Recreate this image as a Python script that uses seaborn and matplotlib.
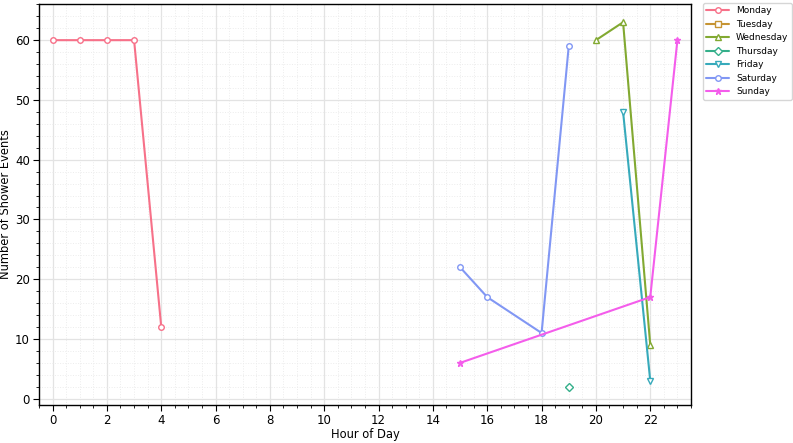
import matplotlib
matplotlib.use("Agg")
import matplotlib.pyplot as plt
import seaborn as sns
import pandas as pd
from matplotlib.ticker import AutoMinorLocator

days = ["Monday", "Tuesday", "Wednesday", "Thursday", "Friday", "Saturday", "Sunday"]
markers = ["o", "s", "^", "D", "v", "o", "*"]

monday_hours = [0, 1, 2, 3, 4]
monday_counts = [60, 60, 60, 60, 12]
tuesday_hours = []
tuesday_counts = []
wednesday_hours = [20, 21, 22]
wednesday_counts = [60, 63, 9]
thursday_hours = [19]
thursday_counts = [2]
friday_hours = [21, 22]
friday_counts = [48, 3]
saturday_hours = [15, 16, 18, 19]
saturday_counts = [22, 17, 11, 59]
sunday_hours = [15, 22, 23]
sunday_counts = [6, 17, 60]

series = {
    "Monday": (monday_hours, monday_counts),
    "Tuesday": (tuesday_hours, tuesday_counts),
    "Wednesday": (wednesday_hours, wednesday_counts),
    "Thursday": (thursday_hours, thursday_counts),
    "Friday": (friday_hours, friday_counts),
    "Saturday": (saturday_hours, saturday_counts),
    "Sunday": (sunday_hours, sunday_counts),
}

sns.set_style("ticks")
plt.rcParams['font.family'] = ['DejaVu Sans']
plt.rcParams['text.color'] = 'black'
plt.rcParams['axes.labelcolor'] = 'black'
plt.rcParams['xtick.color'] = 'black'
plt.rcParams['ytick.color'] = 'black'
palette = sns.color_palette("husl", 7)

fig = plt.figure(figsize=(7.93, 4.43), dpi=100)
ax = fig.add_axes([39/793, 1 - 405/443, (691-39)/793, (405-4)/443])

for day, mk, col in zip(days, markers, palette):
    hrs, cnt = series[day]
    face = col if mk == "*" else "white"
    ms = 4.5 if mk == "*" else 4
    if len(hrs) == 0:
        ax.plot([], [], color=col, marker=mk, markerfacecolor=face,
                markeredgecolor=col, markersize=ms, lw=1.5, label=day)
        continue
    df = pd.DataFrame({"hour": hrs, "count": cnt})
    sns.lineplot(data=df, x="hour", y="count", ax=ax, color=col, marker=mk,
                 markerfacecolor=face, markeredgecolor=col, markeredgewidth=1,
                 markersize=ms, lw=1.5, label=day)

ax.set_xlim(-0.5, 23.5)
ax.set_ylim(-1.05, 66.05)
ax.set_xticks(range(0, 24, 2))
ax.set_yticks(range(0, 61, 10))
ax.xaxis.set_minor_locator(AutoMinorLocator(4))
ax.yaxis.set_minor_locator(AutoMinorLocator(5))
ax.grid(which="major", color="#e3e3e3", lw=0.9, ls="-")
ax.grid(which="minor", color="#ececec", lw=0.7, ls=":")
ax.set_axisbelow(True)
for s in ax.spines.values():
    s.set_color("black")
    s.set_linewidth(1)
ax.tick_params(which="major", length=4, labelsize=8.5, color="black",
               labelcolor="black", pad=2.5)
ax.tick_params(which="minor", length=2, color="black")
ax.set_xlabel("Hour of Day", fontsize=8.3, labelpad=1, color="black")
ax.set_ylabel("Number of Shower Events", fontsize=8.3, labelpad=2, color="black")

leg = ax.legend(loc="upper left", bbox_to_anchor=(1.018, 1.003), fontsize=6.5,
                frameon=True, borderaxespad=0, handlelength=2.5)
for t in leg.get_texts():
    t.set_color("black")

fig.savefig("out.png", dpi=100)
